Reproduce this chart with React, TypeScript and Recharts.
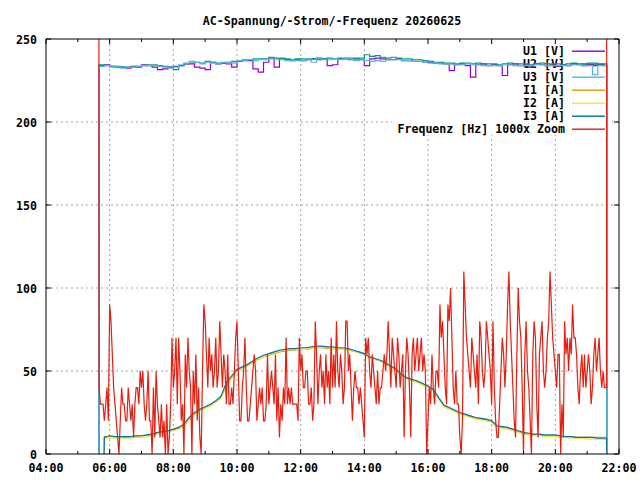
import React from "react";
import { LineChart, Line, XAxis, YAxis, CartesianGrid } from "recharts";

// ---------- text ----------
const TITLE = "AC-Spannung/-Strom/-Frequenz 20260625";
const SERIES_NAMES = ["U1 [V]", "U2 [V]", "U3 [V]", "I1 [A]", "I2 [A]", "I3 [A]", "Frequenz [Hz] 1000x Zoom"];
const SERIES_COLORS = ["#9400d3", "#009e73", "#56b4e9", "#e69f00", "#f0e442", "#0072b2", "#e51e10"];
const SERIES_CURVE = ["stepAfter", "stepAfter", "stepAfter", "linear", "linear", "linear", "linear"];

// ---------- axes ----------
const HOUR_TICKS = [4, 5, 6, 7, 8, 9, 10, 11, 12, 13, 14, 15, 16, 17, 18, 19, 20, 21, 22];
const GRID_HOURS = [6, 8, 10, 12, 14, 16, 18, 20];
const Y_TICKS = [0, 50, 100, 150, 200, 250];
const Y_GRID = [50, 100, 150, 200];

// ---------- timing ----------
const POWER_ON = "05:39";      // voltages jump up from 0
const V_START = "05:40";       // first regular voltage sample
const V_STEP = 10;             // minutes
const I_ON = "05:49.5";        // currents jump up from 0
const I_START = "05:50";
const I_STEP = 10;
const F_EDGE_START = "05:39.5";
const F_START = "05:40";
const F_STEP = 2.5;
const LAST_SAMPLE = "21:36.5";
const POWER_OFF = "21:37";
const EDGE_ZERO = 0;
const F_EDGE_VALUE = 400;      // off-scale spike at start / end of the frequency trace

// ---------- voltages (V) 05:40 .. 21:30, 10 min ----------
const U1 = [
  234, 234.5,
  233.5, 233, 233, 232.5, 233.5, 233,
  234.5, 234, 233, 231.5, 232, 233,
  233.5, 234, 235, 235, 233, 232.5,
  231.5, 236, 235, 235.5, 235, 233,
  236.5, 237, 237, 232, 230, 236,
  238.5, 233, 238, 237.5, 237, 237.5,
  237, 237.5, 238, 237.5, 238, 234,
  234.5, 238, 238, 237.5, 238, 237.5,
  234, 238, 238.5, 238, 237.5, 237.5,
  238, 237, 237, 236.5, 236.5, 236,
  236, 235.5, 235.5, 235, 231, 234.5,
  235, 234, 227, 234.5, 235, 234,
  234.5, 234, 228, 234.5, 235, 234,
  234.5, 233, 235, 234.5, 234, 234.5,
  233.5, 234.5, 234, 235, 234.5, 234,
  234.5, 234, 234.5, 234,
];
const U2 = [
  234.5, 234,
  233.5, 233.5, 233, 233, 233, 233.5,
  234, 234.5, 234.5, 234, 233.5, 233,
  231.5, 234, 235, 235.5, 236, 235.5,
  236.5, 236, 235.5, 235.5, 236, 236.5,
  236.5, 237.5, 237.5, 238, 238, 238,
  239, 238.5, 238.5, 238, 237.5, 238,
  238, 238, 238, 238.5, 238, 238.5,
  238, 238.5, 238.5, 238.5, 238.5, 238.5,
  240.5, 239.5, 240, 239, 238.5, 239,
  238.5, 238, 238, 237.5, 237.5, 237,
  236.5, 236, 236, 235.5, 235.5, 235,
  235.5, 235.5, 235, 235.5, 235, 235,
  235, 234.5, 235, 235.5, 235, 235,
  235, 234.5, 235, 235.5, 235, 235,
  235, 234.5, 235, 235.5, 235, 235,
  235.5, 235.5, 235, 235,
];
const U3 = [
  233.5, 234,
  233, 233.5, 232.5, 233, 233, 233.5,
  234, 234, 234, 233.5, 233, 232.5,
  233, 234.5, 235.5, 236.5, 236, 235,
  236, 235.5, 235, 236, 235.5, 235.5,
  237, 237, 237.5, 237, 237.5, 237.5,
  238, 237.5, 237.5, 237, 237, 237,
  237, 238, 236, 238.5, 237.5, 237.5,
  238, 237.5, 238, 238, 237, 237.5,
  237, 236.5, 237, 236.5, 237.5, 237.5,
  237.5, 237, 237, 236.5, 236.5, 236,
  235.5, 235.5, 235, 235, 234.5, 234.5,
  234.5, 235, 234.5, 234.5, 234, 234,
  234, 234, 234.5, 234.5, 234, 234,
  234, 234, 234.5, 234.5, 234, 234,
  234, 234, 234, 234.5, 234.5, 234,
  234, 228.5, 234, 234,
];

// ---------- currents (A) 05:50 .. 21:30, 10 min ----------
const I1 = [
  10.5,
  10.5, 10.5, 10.5, 10, 10.5, 10.5,
  11, 11, 12, 12.5, 13.5, 14,
  14.5, 15.5, 17, 21, 24, 26.5,
  28, 29.5, 31.5, 34, 41, 46,
  50, 51.5, 53, 55, 57, 58.5,
  59.5, 60.5, 61.5, 62, 62.5, 62.5,
  63, 63, 63.5, 64, 64, 63.5,
  63.5, 63.5, 63, 62.5, 62, 61,
  60, 58, 57, 56, 54.5, 52.5,
  50.5, 47.5, 45.5, 44.5, 43.5, 42,
  40.5, 38.5, 33.5, 29, 27.5, 26,
  24.5, 23.5, 22.5, 21.5, 21, 20.5,
  19.5, 16.5, 16, 15.5, 14.5, 13.5,
  12.5, 12, 11.5, 11.5, 11, 11,
  11, 10.5, 10.5, 10.5, 10, 10,
  10, 10, 10, 10,
];
const I2 = [
  9.5,
  9.5, 9.5, 9.5, 9.5, 9.5, 10,
  10, 10.5, 11, 12, 13, 13.5,
  14, 15, 16.5, 20.5, 23.5, 26,
  27.5, 29, 31, 33.5, 40.5, 45.5,
  49.5, 51.5, 53, 55, 57, 58.5,
  60, 61, 62, 62.5, 63, 63,
  63, 63, 63.5, 64, 64, 64,
  63.5, 63.5, 63, 62.5, 62, 61,
  60, 58, 57, 56, 54, 52,
  50, 47, 45, 44, 43, 41.5,
  40, 38, 33, 28.5, 27, 25.5,
  24, 23, 22, 21, 20.5, 20,
  19, 16, 15.5, 15, 14, 13,
  12, 11.5, 11, 11, 10.5, 10.5,
  10.5, 10, 10, 9.5, 9.5, 9.5,
  9, 9, 9, 9,
];
const I3 = [
  10,
  11, 10.5, 10.5, 10.5, 10.5, 11,
  11, 11.5, 12, 13, 13.5, 14,
  15, 16, 18, 22, 25, 27,
  28.5, 30, 32, 35, 43, 47,
  51, 52.5, 54, 56, 58, 59.5,
  60.5, 61.5, 62.5, 63, 63.5, 63.5,
  64, 64, 64.5, 65, 65, 64.5,
  64.5, 64, 64, 63.5, 62.5, 61.5,
  60.5, 58.5, 57.5, 56.5, 55, 53,
  51, 48, 46, 45, 44, 42.5,
  41, 39, 34, 29.5, 28, 26.5,
  25, 24, 23, 22, 21.5, 21,
  20, 17, 16.5, 16, 15, 14,
  13, 12.5, 12, 12, 11.5, 11.5,
  11.5, 11, 10.5, 10.5, 10, 10,
  10, 10, 9.5, 9.5,
];

// ---------- frequency, (f - 49.95 Hz) x 1000, from 05:40, 2.5 min ----------
const FREQ = [
  40, 30, 30, 30, 20, 30, 40,
  20, 90, 80, 60, 40, 30, 20, 10, 0, 20, 40, 30, 30, 20, 20, 40, 30, 20, 30, 10, 30, 40, 40, 30,
  50, 40, 50, 30, 20, 30, 50, 20, 20, 0, 40, 10, 50, 30, 20, 10, 30, 10, 20, 0, 30, 0, 10, 30,
  70, 40, 50, 70, 30, 70, 50, 20, 30, 0, 60, 40, 70, 50, 40, 0, 50, 30, 60, 20, 40, 10, 0, 50,
  90, 80, 60, 40, 70, 50, 60, 40, 50, 70, 40, 50, 80, 60, 40, 60, 50, 30, 60, 30, 30, 40, 30, 50,
  70, 80, 50, 20, 20, 40, 50, 70, 40, 20, 20, 30, 40, 50, 60, 50, 20, 30, 40, 30, 40, 20, 20, 30,
  60, 30, 40, 50, 40, 30, 60, 20, 40, 10, 30, 20, 40, 30, 70, 30, 40, 30, 40, 30, 30, 30, 30, 20,
  70, 50, 60, 40, 40, 50, 50, 30, 30, 40, 20, 30, 80, 60, 30, 50, 60, 40, 50, 30, 60, 40, 50, 30,
  70, 40, 60, 40, 80, 50, 40, 60, 50, 30, 40, 80, 80, 50, 60, 40, 20, 40, 50, 40, 40, 30, 40, 30,
  20, 10, 70, 60, 70, 50, 40, 60, 50, 40, 30, 50, 30, 40, 40, 50, 60, 50, 60, 80, 60, 40, 70, 60,
  50, 40, 70, 60, 40, 50, 60, 10, 50, 70, 60, 40, 10, 60, 70, 50, 60, 70, 50, 60, 70, 50, 60, 50,
  0, 20, 40, 30, 60, 40, 30, 50, 50, 40, 90, 70, 80, 60, 40, 30, 90, 80, 100, 70, 40, 30, 50, 30,
  30, 10, 0, 20, 110, 90, 70, 60, 50, 40, 70, 60, 50, 40, 60, 30, 80, 70, 50, 40, 50, 80, 70, 60,
  50, 30, 80, 40, 20, 10, 10, 30, 50, 70, 60, 40, 60, 90, 110, 80, 60, 40, 20, 10, 60, 100, 80, 70,
  40, 0, 60, 80, 50, 40, 20, 0, 60, 80, 70, 30, 10, 60, 70, 80, 50, 40, 50, 70, 80, 110, 90, 70,
  60, 50, 40, 60, 60, 0, 30, 10, 80, 60, 70, 50, 70, 60, 90, 70, 70, 60, 40, 30, 50, 60, 40, 60,
  40, 50, 60, 50, 30, 40, 60, 70, 50, 60, 70, 50, 40, 50, 40,
];

// ---------- helpers ----------
const toMin = (s: string) => {
  const [h, m] = s.split(":").map(Number);
  return h * 60 + m;
};
type Pt = { t: number; v: number };
const regular = (start: string, step: number, values: number[]): Pt[] =>
  values.map((v, i) => ({ t: toMin(start) + i * step, v }));

const session = (on: string, onV: number, start: string, step: number, values: number[], offV: number): Pt[] => [
  { t: toMin(on), v: onV },
  ...regular(start, step, values),
  { t: toMin(LAST_SAMPLE), v: values[values.length - 1] },
  { t: toMin(POWER_OFF), v: offV },
];

const SERIES_DATA = [
  session(POWER_ON, EDGE_ZERO, V_START, V_STEP, U1, EDGE_ZERO),
  session(POWER_ON, EDGE_ZERO, V_START, V_STEP, U2, EDGE_ZERO),
  session(POWER_ON, EDGE_ZERO, V_START, V_STEP, U3, EDGE_ZERO),
  session(I_ON, EDGE_ZERO, I_START, I_STEP, I1, EDGE_ZERO),
  session(I_ON, EDGE_ZERO, I_START, I_STEP, I2, EDGE_ZERO),
  session(I_ON, EDGE_ZERO, I_START, I_STEP, I3, EDGE_ZERO),
  session(F_EDGE_START, F_EDGE_VALUE, F_START, F_STEP, FREQ, F_EDGE_VALUE),
];

// ---------- styling ----------
const FONT = "'DejaVu Sans Mono', 'Liberation Mono', monospace";
const FONT_SIZE = 11.6;
const W = 640;
const H = 480;
const MAJOR = 5;
const MINOR = 3;

const pad = (n: number) => String(n).padStart(2, "0");

const BottomTick = (props: any) => {
  const { x, y, payload } = props;
  const h = payload.value / 60;
  const major = h % 2 === 0;
  return (
    <g>
      <line x1={x} x2={x} y1={y} y2={y - (major ? MAJOR : MINOR)} stroke="#000" />
      {major && (
        <text x={x} y={y + 18} textAnchor="middle" fontFamily={FONT} fontSize={FONT_SIZE} fontWeight="bold" fill="#000">
          {`${pad(h)}:00`}
        </text>
      )}
    </g>
  );
};
const TopTick = (props: any) => {
  const { x, y, payload } = props;
  const h = payload.value / 60;
  const major = h % 2 === 0;
  return <line x1={x} x2={x} y1={y} y2={y + (major ? MAJOR : MINOR)} stroke="#000" />;
};
const LeftTick = (props: any) => {
  const { x, y, payload } = props;
  return (
    <g>
      <line x1={x} x2={x + MAJOR} y1={y} y2={y} stroke="#000" />
      <text x={x - 9} y={y + 5} textAnchor="end" fontFamily={FONT} fontSize={FONT_SIZE} fontWeight="bold" fill="#000">
        {payload.value}
      </text>
    </g>
  );
};
const RightTick = (props: any) => {
  const { x, y } = props;
  return <line x1={x} x2={x - MAJOR} y1={y} y2={y} stroke="#000" />;
};

const KeyBackground = () => <rect x={392} y={40} width={220} height={95} fill="#fff" />;

const KeyEntries = () => (
  <g>
    {SERIES_NAMES.map((name, i) => (
      <g key={name}>
        <text x={565} y={55 + i * 13} textAnchor="end" fontFamily={FONT} fontSize={FONT_SIZE} fontWeight="bold" fill="#000">
          {name}
        </text>
        <rect x={572} y={50.5 + i * 13} width={33} height={1.4} fill={SERIES_COLORS[i]} stroke="none" />
      </g>
    ))}
  </g>
);

const Title = () => (
  <text x={332} y={25} textAnchor="middle" fontFamily={FONT} fontSize={FONT_SIZE} fontWeight="bold" fill="#000">
    {TITLE}
  </text>
);

export default function App() {
  const hourTicks = HOUR_TICKS.map((h) => h * 60);
  const gridX = GRID_HOURS.map((h) => h * 60);
  return (
    <div style={{ position: "absolute", left: 0, top: 0, width: W, height: H, background: "#fff" }}>
      <LineChart width={W} height={H} margin={{ top: 38, right: 20, bottom: 0, left: 0 }}>
        <CartesianGrid
          xAxisId="bottom"
          yAxisId="left"
          verticalValues={gridX}
          horizontalValues={Y_GRID}
          stroke="#a0a0a0"
          strokeDasharray="2 3"
        />
        <XAxis
          xAxisId="bottom"
          type="number"
          dataKey="t"
          domain={[hourTicks[0], hourTicks[hourTicks.length - 1]]}
          ticks={hourTicks}
          interval={0}
          height={26}
          tickSize={0}
          tickMargin={0}
          tick={<BottomTick />}
          axisLine={{ stroke: "#000" }}
          allowDataOverflow
        />
        <XAxis
          xAxisId="top"
          orientation="top"
          type="number"
          dataKey="t"
          domain={[hourTicks[0], hourTicks[hourTicks.length - 1]]}
          ticks={hourTicks}
          interval={0}
          height={1}
          tickSize={0}
          tickMargin={0}
          tick={<TopTick />}
          axisLine={{ stroke: "#000" }}
          allowDataOverflow
        />
        <YAxis
          yAxisId="left"
          type="number"
          domain={[0, 250]}
          ticks={Y_TICKS}
          interval={0}
          width={46}
          tickSize={0}
          tickMargin={0}
          tick={<LeftTick />}
          axisLine={{ stroke: "#000" }}
          allowDataOverflow
        />
        <YAxis
          yAxisId="right"
          orientation="right"
          type="number"
          domain={[0, 250]}
          ticks={Y_TICKS}
          interval={0}
          width={1}
          tickSize={0}
          tickMargin={0}
          tick={<RightTick />}
          axisLine={{ stroke: "#000" }}
          allowDataOverflow
        />
        <KeyBackground />
        {SERIES_DATA.map((d, i) => (
          <Line
            key={SERIES_NAMES[i]}
            xAxisId="bottom"
            yAxisId="left"
            data={d}
            dataKey="v"
            type={SERIES_CURVE[i] as any}
            stroke={SERIES_COLORS[i]}
            strokeWidth={1.2}
            dot={false}
            activeDot={false}
            isAnimationActive={false}
          />
        ))}
        <KeyEntries />
        <Title />
      </LineChart>
    </div>
  );
}
